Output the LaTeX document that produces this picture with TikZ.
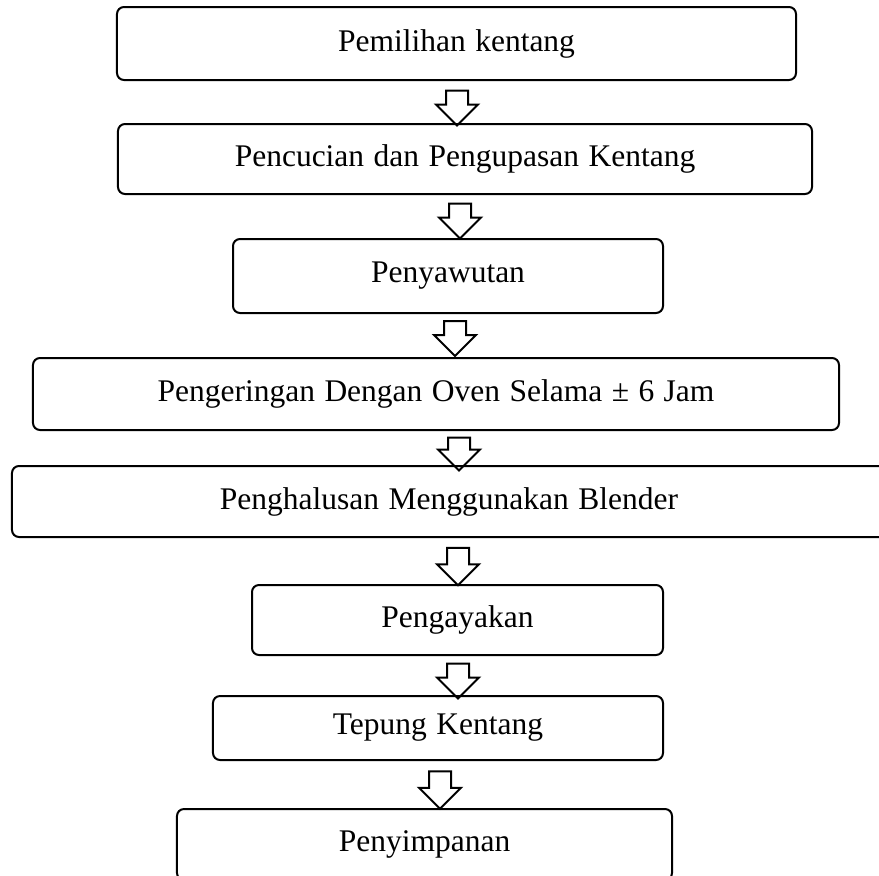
\documentclass[tikz,border=0pt]{standalone}
\usepackage{fontspec}
\setmainfont{Liberation Serif}
\usetikzlibrary{positioning,shapes.arrows}
\newcommand\procfont{\fontsize{12.6}{15}\selectfont\spaceskip 0.3em\relax}
\tikzset{
  proc/.style = {draw, rounded corners=2.8pt, line width=0.8pt, inner sep=0pt,
                 font=\procfont},
  darr/.style = {draw, single arrow, shape border rotate=270,
                 single arrow head extend=4pt, inner sep=4pt,
                 minimum height=14pt, line width=0.8pt},
}
\begin{document}
\begin{tikzpicture}[x=0.4pt,y=-0.4pt]
  \useasboundingbox (0,0) rectangle (879,875);
  % process steps
  \node[proc, minimum width=271.6pt, minimum height=29.2pt] (b1) at (456.5,43.5) {Pemilihan kentang};
  \node[proc, minimum width=277.6pt, minimum height=28pt]   (b2) at (465,159)    {Pencucian dan Pengupasan Kentang};
  \node[proc, minimum width=172pt,   minimum height=29.6pt] (b3) at (448,276)    {Penyawutan};
  \node[proc, minimum width=322.4pt, minimum height=28.8pt] (b4) at (436,394)    {Pengeringan Dengan Oven Selama ± 6 Jam};
  \node[proc, minimum width=349.6pt, minimum height=28.4pt] (b5) at (449,501.5)  {Penghalusan Menggunakan Blender};
  \node[proc, minimum width=164.4pt, minimum height=28pt]   (b6) at (457.5,620)  {Pengayakan};
  \node[proc, minimum width=180pt,   minimum height=25.6pt] (b7) at (438,728)    {Tepung Kentang};
  \node[proc, minimum width=198pt,   minimum height=28.4pt] (b8) at (424.5,844.5) {Penyimpanan};
  % hollow arrows between the steps
  \node[darr] (a1) at (457,102.5) {};
  \node[darr] (a2) at (460,215.5) {};
  \node[darr] (a3) at (455,333)   {};
  \node[darr, minimum height=12.4pt] (a4) at (459,448.5) {};
  \node[darr, minimum height=15pt] (a5) at (458,561) {};
  \node[darr] (a6) at (458,675.5) {};
  \node[darr, minimum height=15pt] (a7) at (440,784.5) {};
\end{tikzpicture}
\end{document}
